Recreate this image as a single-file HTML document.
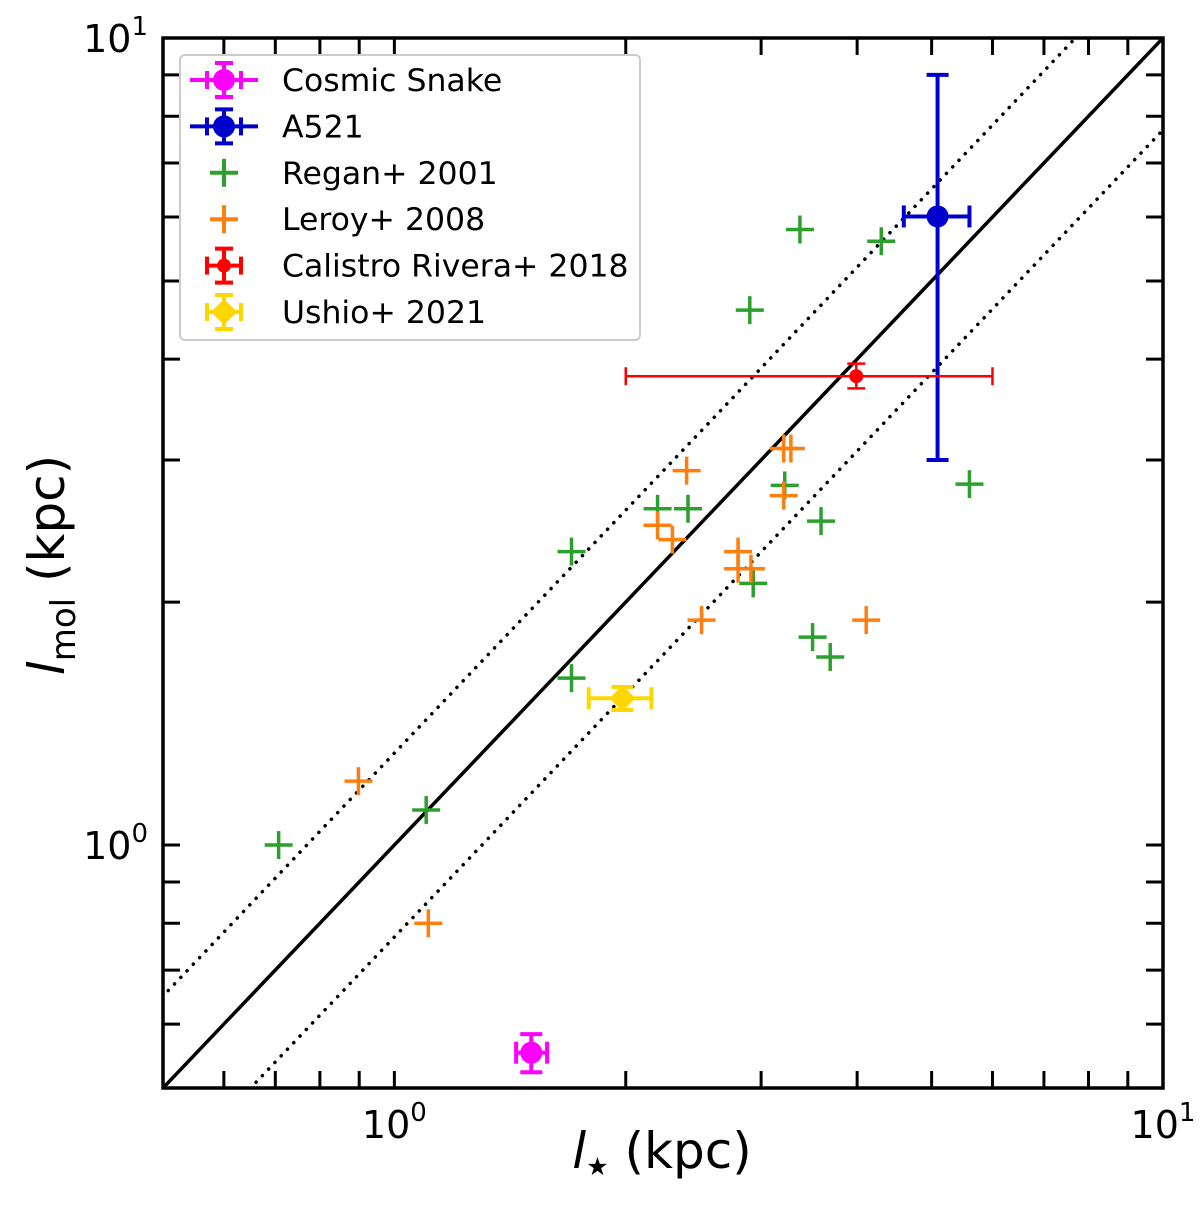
<!DOCTYPE html>
<html><head><meta charset="utf-8"><style>
html,body{margin:0;padding:0;background:#fff;width:1200px;height:1209px;overflow:hidden;}
svg{display:block;font-family:"DejaVu Sans","Liberation Sans",sans-serif;}
</style></head><body>
<svg id="chart" width="1200" height="1209" viewBox="0 0 1200 1209"></svg>
<script>
const reganX=[3.37,4.30,2.90,5.60,3.22,3.59,2.20,2.41,1.70,2.93,3.50,3.69,1.70,1.10,0.707];
const reganY=[5.79,5.60,4.60,2.80,2.79,2.52,2.61,2.61,2.31,2.11,1.81,1.71,1.61,1.105,1.00];
const leroyX=[0.898,1.107,2.40,2.20,2.30,3.21,3.28,3.21,2.80,2.80,2.91,2.51,4.11];
const leroyY=[1.20,0.80,2.91,2.49,2.39,3.10,3.10,2.71,2.31,2.20,2.20,1.90,1.90];
const snake={x:1.507,y:0.553,xlo:1.44,xhi:1.58,ylo:0.523,yhi:0.583};
const a521={x:5.09,y:6.01,xlo:4.6,xhi:5.6,ylo:3.0,yhi:9.0};
const calistro={x:3.99,y:3.81,xlo:2.0,xhi:6.0,ylo:3.68,yhi:3.95};
const ushio={x:1.98,y:1.52,xlo:1.79,xhi:2.16,ylo:1.47,yhi:1.57};
const ratio=1.3;
const X0=163,X1=1163,Y0=38,Y1=1088,LMIN=Math.log10(0.5),LMAX=1;
const sx=v=>X0+(Math.log10(v)-LMIN)/(LMAX-LMIN)*(X1-X0);
const sy=v=>Y1-(Math.log10(v)-LMIN)/(LMAX-LMIN)*(Y1-Y0);
const svg=document.getElementById('chart');
const NS='http://www.w3.org/2000/svg';
function mk(tag,attrs,parent){const e=document.createElementNS(NS,tag);for(const k in attrs)e.setAttribute(k,attrs[k]);(parent||svg).appendChild(e);return e;}
const defs=mk('defs',{});const cp=mk('clipPath',{id:'clip'},defs);mk('rect',{x:X0,y:Y0,width:X1-X0,height:Y1-Y0},cp);
const plot=mk('g',{'clip-path':'url(#clip)'});


function relLine(f,dash,name){const l=mk('line',{x1:sx(0.3),y1:sy(0.3*f),x2:sx(20),y2:sy(20*f),stroke:'#000','stroke-width':3.5,'stroke-dasharray':dash||'','stroke-linecap':dash?'round':'butt'},plot);

}
relLine(1,'','one-to-one-line');
relLine(ratio,'0.1 9','upper-dotted-line');
relLine(1/ratio,'0.1 9','lower-dotted-line');
function plus(x,y,c,name){const g=mk('g',{stroke:c,'stroke-width':3.5},plot);


mk('line',{x1:sx(x)-14,y1:sy(y),x2:sx(x)+14,y2:sy(y)},g);mk('line',{x1:sx(x),y1:sy(y)-14,x2:sx(x),y2:sy(y)+14},g);}
reganX.forEach((v,i)=>plus(v,reganY[i],'#2ca02c','regan-point'));
leroyX.forEach((v,i)=>plus(v,leroyY[i],'#ff7f0e','leroy-point'));
function errpt(d,c,w,cap,marker,r,name){const g=mk('g',{stroke:c,'stroke-width':w,fill:c},plot);


const x=sx(d.x),y=sy(d.y),xl=sx(d.xlo),xh=sx(d.xhi),yl=sy(d.ylo),yh=sy(d.yhi);
mk('line',{x1:xl,y1:y,x2:xh,y2:y},g);mk('line',{x1:x,y1:yl,x2:x,y2:yh},g);
mk('line',{x1:xl,y1:y-cap,x2:xl,y2:y+cap},g);mk('line',{x1:xh,y1:y-cap,x2:xh,y2:y+cap},g);
mk('line',{x1:x-cap,y1:yl,x2:x+cap,y2:yl},g);mk('line',{x1:x-cap,y1:yh,x2:x+cap,y2:yh},g);
if(marker==='c')mk('circle',{cx:x,cy:y,r:r,stroke:'none'},g);else mk('polygon',{points:`${x},${y-r} ${x+r},${y} ${x},${y+r} ${x-r},${y}`,stroke:'none'},g);}
errpt(snake,'#ff00ff',4,11,'c',11,'cosmic-snake-point');
errpt(a521,'#0000cc',4,11,'c',11,'a521-point');
errpt(calistro,'#ff0000',2.5,9,'c',7,'calistro-rivera-point');
errpt(ushio,'#ffd700',4,11,'d',13,'ushio-point');
const fr=mk('rect',{x:X0,y:Y0,width:X1-X0,height:Y1-Y0,fill:'none',stroke:'#000','stroke-width':3.5});


const tickVals=[0.5,0.6,0.7,0.8,0.9,1,2,3,4,5,6,7,8,9,10];
tickVals.forEach(v=>{const L=17;
mk('line',{x1:sx(v),y1:Y1,x2:sx(v),y2:Y1-L,stroke:'#000','stroke-width':3});
mk('line',{x1:sx(v),y1:Y0,x2:sx(v),y2:Y0+L,stroke:'#000','stroke-width':3});
mk('line',{x1:X0,y1:sy(v),x2:X0+L,y2:sy(v),stroke:'#000','stroke-width':3});
mk('line',{x1:X1,y1:sy(v),x2:X1-L,y2:sy(v),stroke:'#000','stroke-width':3});});
function txt(x,y,html,attrs,name){const t=mk('text',Object.assign({x:x,y:y,fill:'#000'},attrs));t.innerHTML=html;

return t;}
const sup='<tspan font-size="26" dy="-17">';
txt(sx(1),1138,'10'+sup+'0</tspan>',{'font-size':38,'text-anchor':'middle'},'x-tick-label');
txt(sx(10),1138,'10'+sup+'1</tspan>',{'font-size':38,'text-anchor':'middle'},'x-tick-label');
txt(148,sy(1)+14,'10'+sup+'0</tspan>',{'font-size':38,'text-anchor':'end'},'y-tick-label');
txt(148,sy(10)+14,'10'+sup+'1</tspan>',{'font-size':38,'text-anchor':'end'},'y-tick-label');
txt(662,1168,'<tspan font-style="italic">l</tspan><tspan font-size="25" dy="7">★</tspan><tspan dy="-7"> (kpc)</tspan>',{'font-size':50,'text-anchor':'middle'},'x-axis-title');
txt(0,0,'<tspan font-style="italic">l</tspan><tspan font-size="34" dy="11">mol</tspan><tspan dy="-11"> (kpc)</tspan>',{'font-size':50,'text-anchor':'middle',transform:'translate(64,565) rotate(-90)'},'y-axis-title');
const lg=mk('g',{});


mk('rect',{x:180,y:55,width:460,height:285,rx:5,fill:'#fff',stroke:'#ccc','stroke-width':2},lg);
const entries=[['Cosmic Snake','#ff00ff','eb'],['A521','#0000cc','eb'],['Regan+ 2001','#2ca02c','p'],['Leroy+ 2008','#ff7f0e','p'],['Calistro Rivera+ 2018','#ff0000','ebs'],['Ushio+ 2021','#ffd700','ebd']];
entries.forEach((e,i)=>{const y=80+i*46.4,x=224;const g=mk('g',{stroke:e[1],fill:e[1],'stroke-width':4},lg);


if(e[2]==='p'){mk('line',{x1:x-14,y1:y,x2:x+14,y2:y},g);mk('line',{x1:x,y1:y-14,x2:x,y2:y+14},g);}
else{const hw=e[2]==='eb'?34:17;mk('line',{x1:x-hw,y1:y,x2:x+hw,y2:y},g);mk('line',{x1:x,y1:y-17,x2:x,y2:y+17},g);
mk('line',{x1:x-17,y1:y-9,x2:x-17,y2:y+9},g);mk('line',{x1:x+17,y1:y-9,x2:x+17,y2:y+9},g);
mk('line',{x1:x-9,y1:y-17,x2:x+9,y2:y-17},g);mk('line',{x1:x-9,y1:y+17,x2:x+9,y2:y+17},g);
if(e[2]==='ebd')mk('polygon',{points:`${x},${y-13} ${x+13},${y} ${x},${y+13} ${x-13},${y}`,stroke:'none'},g);
else mk('circle',{cx:x,cy:y,r:e[2]==='ebs'?7:11,stroke:'none'},g);}
const t=mk('text',{x:282,y:y+11,'font-size':31.5,fill:'#000'},lg);t.textContent=e[0];

});
</script>
</body></html>
